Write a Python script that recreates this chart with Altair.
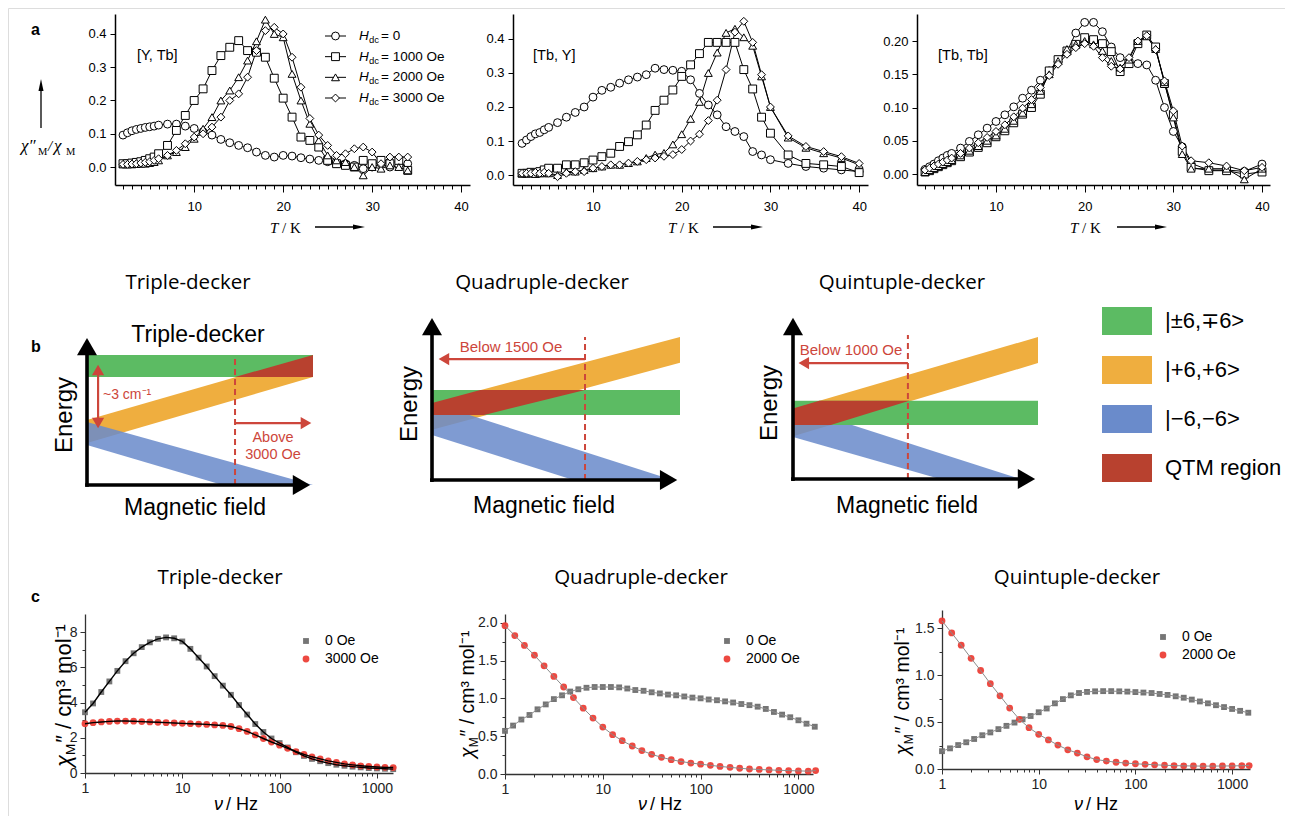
import altair as alt
import pandas as pd

W, H = 1277, 808
OFF = 8


def P(v):
    return v - OFF


SANS = "Liberation Sans"
SERIF = "Liberation Serif"
TFONT = "Open Sans"
ANN_RED = "#CD463B"

# ---------------- Row a : chi''/chi vs T ----------------
SERIES_A = ["0", "1000", "2000", "3000"]
SHAPES_A = ["circle", "square", "triangle-up", "diamond"]

T_A1 = [2, 2.5, 3, 3.5, 4, 4.5, 5, 5.5, 6, 7, 8, 9, 10, 11, 12, 13, 14, 15, 16, 17, 18,
        19, 20, 21, 22, 23, 24, 25, 26, 27, 28, 29, 30, 31, 32, 33, 34]
A1_H0 = [0.096, 0.103, 0.109, 0.113, 0.116, 0.119, 0.121, 0.123, 0.126, 0.129, 0.129, 0.123,
         0.116, 0.106, 0.096, 0.083, 0.073, 0.065, 0.058, 0.045, 0.035, 0.030, 0.035, 0.033,
         0.028, 0.024, 0.020, 0.016, 0.012, 0.010, 0.005, -0.005, 0.000, 0.010, 0.000, 0.005, 0.010]
A1_H1000 = [0.010, 0.010, 0.012, 0.014, 0.016, 0.020, 0.025, 0.030, 0.040, 0.065, 0.110, 0.155,
            0.200, 0.235, 0.290, 0.335, 0.360, 0.380, 0.350, 0.345, 0.330, 0.267, 0.207, 0.150,
            0.090, 0.080, 0.060, 0.020, 0.010, 0.005, 0.000, 0.020, 0.010, 0.020, 0.010, 0.020, -0.010]
A1_H2000 = [0.008, 0.008, 0.008, 0.009, 0.010, 0.010, 0.012, 0.015, 0.020, 0.035, 0.045, 0.060,
            0.085, 0.115, 0.150, 0.200, 0.230, 0.270, 0.320, 0.378, 0.443, 0.400, 0.390, 0.280,
            0.200, 0.130, 0.080, 0.035, 0.020, 0.015, 0.000, -0.025, 0.000, -0.005, 0.005, 0.000, -0.010]
A1_H3000 = [0.008, 0.008, 0.009, 0.010, 0.012, 0.014, 0.016, 0.020, 0.025, 0.035, 0.050, 0.070,
            0.090, 0.100, 0.120, 0.150, 0.200, 0.220, 0.270, 0.350, 0.410, 0.420, 0.400, 0.330,
            0.240, 0.146, 0.096, 0.065, 0.035, 0.040, 0.055, 0.060, 0.045, 0.010, 0.030, 0.030, 0.030]

T_A2 = [2, 2.5, 3, 3.5, 4, 4.5, 5, 6, 7, 8, 9, 10, 11, 12, 13, 14, 15, 16, 17, 18, 19, 20,
        21, 22, 23, 24, 25, 26, 27, 28, 29, 30, 32, 34, 36, 38, 40]
A2_H0 = [0.093, 0.103, 0.113, 0.121, 0.125, 0.133, 0.140, 0.154, 0.170, 0.184, 0.200, 0.229,
         0.249, 0.258, 0.270, 0.280, 0.288, 0.295, 0.314, 0.310, 0.308, 0.305, 0.280, 0.240,
         0.206, 0.177, 0.142, 0.128, 0.113, 0.069, 0.059, 0.045, 0.034, 0.025, 0.020, 0.015, 0.010]
A2_H1000 = [0.005, 0.005, 0.008, 0.005, 0.010, 0.015, 0.020, 0.020, 0.030, 0.030, 0.036, 0.044,
            0.054, 0.064, 0.084, 0.098, 0.118, 0.147, 0.190, 0.220, 0.250, 0.290, 0.324, 0.357,
            0.390, 0.390, 0.390, 0.390, 0.310, 0.253, 0.170, 0.123, 0.059, 0.034, 0.030, 0.025, 0.007]
A2_H2000 = [0.005, 0.005, 0.005, 0.003, 0.005, 0.005, 0.005, 0.000, 0.010, 0.010, 0.015, 0.020,
            0.025, 0.030, 0.030, 0.035, 0.040, 0.050, 0.060, 0.065, 0.090, 0.120, 0.165, 0.215,
            0.300, 0.360, 0.418, 0.430, 0.405, 0.380, 0.290, 0.200, 0.110, 0.080, 0.064, 0.050, 0.030]
A2_H3000 = [0.005, 0.005, 0.005, 0.008, 0.005, 0.008, 0.005, -0.005, 0.005, 0.010, 0.010, 0.020,
            0.025, 0.030, 0.030, 0.035, 0.040, 0.045, 0.050, 0.055, 0.060, 0.075, 0.100, 0.120,
            0.160, 0.220, 0.310, 0.420, 0.452, 0.390, 0.295, 0.200, 0.115, 0.084, 0.069, 0.054, 0.034]

T_A3 = [2, 2.5, 3, 3.5, 4, 4.5, 5, 6, 7, 8, 9, 10, 11, 12, 13, 14, 15, 16, 17, 18, 19, 20,
        21, 22, 23, 24, 25, 26, 27, 28, 29, 30, 31, 32, 34, 36, 38, 40]
A3_H0 = [0.007, 0.011, 0.015, 0.020, 0.024, 0.028, 0.031, 0.039, 0.049, 0.059, 0.069, 0.079,
         0.089, 0.101, 0.114, 0.126, 0.141, 0.155, 0.169, 0.184, 0.212, 0.228, 0.228, 0.214,
         0.191, 0.175, 0.168, 0.166, 0.164, 0.141, 0.100, 0.064, 0.041, 0.016, 0.006, 0.006, 0.004, 0.015]
A3_H1000 = [0.003, 0.005, 0.008, 0.011, 0.014, 0.017, 0.020, 0.026, 0.033, 0.040, 0.047, 0.056,
            0.065, 0.077, 0.090, 0.100, 0.120, 0.155, 0.172, 0.185, 0.195, 0.205, 0.202, 0.196,
            0.184, 0.154, 0.166, 0.196, 0.209, 0.191, 0.136, 0.089, 0.034, 0.010, 0.005, 0.005, 0.000, 0.003]
A3_H2000 = [0.003, 0.006, 0.009, 0.012, 0.015, 0.018, 0.021, 0.028, 0.035, 0.042, 0.050, 0.058,
            0.068, 0.080, 0.092, 0.105, 0.125, 0.150, 0.170, 0.188, 0.195, 0.200, 0.195, 0.185,
            0.170, 0.160, 0.172, 0.200, 0.207, 0.188, 0.138, 0.085, 0.030, 0.008, 0.008, 0.008, -0.008, 0.008]
A3_H3000 = [0.006, 0.009, 0.012, 0.015, 0.018, 0.021, 0.024, 0.031, 0.039, 0.047, 0.055, 0.064,
            0.074, 0.086, 0.099, 0.112, 0.130, 0.148, 0.165, 0.180, 0.190, 0.196, 0.192, 0.175,
            0.162, 0.158, 0.175, 0.200, 0.208, 0.187, 0.140, 0.095, 0.042, 0.020, 0.017, 0.012, 0.005, 0.010]

LEGEND_A = ["= 0", "= 1000 Oe", "= 2000 Oe", "= 3000 Oe"]

# ---------------- Row b : schematic energy diagrams (field 0-10, energy 0-10) ----------------
B_LABELS = ["|\u00b16,\u22136>", "|+6,+6>", "|\u22126,\u22126>", "QTM region"]
B_COLORS = ["#5CBB63", "#EFAE3F", "#6A8BCB", "#B8412F"]

B1_GREEN = ([0, 10], [8.67, 8.67], [7.2, 7.2])
B1_ORANGE = ([0, 10], [4.33, 8.67], [2.8, 7.2])
B1_BLUE = ([0, 6, 10], [4.2, 1.68, 0.0], [2.67, 0.0, 0.0])
B1_RED = ([6.55, 10], [7.2, 8.67], [7.2, 7.2])

B2_GREEN = ([0, 10], [5.45, 5.45], [3.94, 3.94])
B2_ORANGE = ([0, 10], [4.67, 8.67], [3.05, 7.1])
B2_BLUE = ([0, 5.7, 9.7], [4.66, 1.92, 0.0], [2.73, 0.0, 0.0])
B2_RED = ([0, 1.95, 2.1, 6.17], [4.67, 5.45, 5.45, 5.45], [3.94, 3.94, 3.94, 5.45])

B3_GREEN = ([0, 10], [4.77, 4.77], [3.29, 3.29])
B3_ORANGE = ([0, 10], [4.3, 8.66], [2.6, 7.07])
B3_BLUE = ([0, 6, 9.27], [4.45, 1.57, 0.0], [2.56, 0.0, 0.0])
B3_RED = ([0, 1.07, 1.54, 4.75], [4.3, 4.77, 4.77, 4.77], [3.29, 3.29, 3.29, 4.77])

# ---------------- Row c : chi'' vs frequency ----------------
F12 = [1, 1.21, 1.47, 1.78, 2.15, 2.61, 3.16, 3.83, 4.64, 5.62, 6.81, 8.25, 10, 12.1, 14.7,
       17.8, 21.5, 26.1, 31.6, 38.3, 46.4, 56.2, 68.1, 82.5, 100, 121, 147, 178, 215, 261,
       316, 383, 464, 562, 681, 825, 1000, 1210, 1470]
F10 = [1, 1.26, 1.58, 2, 2.51, 3.16, 3.98, 5.01, 6.31, 7.94, 10, 12.6, 15.8, 20, 25.1, 31.6,
       39.8, 50.1, 63.1, 79.4, 100, 126, 158, 200, 251, 316, 398, 501, 631, 794, 1000, 1260, 1500]

C1_0 = [3.45, 3.95, 4.6, 5.2, 5.8, 6.35, 6.8, 7.15, 7.42, 7.62, 7.7, 7.65, 7.47, 7.05, 6.55,
        6.05, 5.5, 4.96, 4.44, 3.86, 3.32, 2.78, 2.33, 1.96, 1.7, 1.45, 1.18, 0.97, 0.8, 0.67,
        0.56, 0.47, 0.41, 0.36, 0.32, 0.28, 0.26, 0.24, 0.22]
C1_3000 = [2.8, 2.86, 2.9, 2.93, 2.95, 2.95, 2.94, 2.92, 2.9, 2.88, 2.86, 2.84, 2.82, 2.8, 2.78,
           2.76, 2.73, 2.7, 2.64, 2.52, 2.36, 2.16, 1.96, 1.76, 1.58, 1.4, 1.22, 1.06, 0.92,
           0.8, 0.69, 0.6, 0.52, 0.46, 0.41, 0.37, 0.34, 0.32, 0.31]
C2_0 = [0.57, 0.64, 0.72, 0.78, 0.855, 0.92, 0.99, 1.04, 1.09, 1.12, 1.14, 1.15, 1.15, 1.15,
        1.145, 1.13, 1.11, 1.1, 1.08, 1.065, 1.05, 1.04, 1.025, 1.01, 1.0, 0.985, 0.975, 0.96,
        0.945, 0.925, 0.91, 0.89, 0.86, 0.82, 0.785, 0.75, 0.71, 0.665, 0.625]
C2_2000 = [1.96, 1.83, 1.70, 1.57, 1.43, 1.29, 1.15, 1.01, 0.87, 0.74, 0.62, 0.52, 0.44, 0.37,
           0.31, 0.26, 0.22, 0.19, 0.165, 0.145, 0.13, 0.115, 0.1, 0.088, 0.076, 0.066, 0.06,
           0.054, 0.049, 0.045, 0.041, 0.038, 0.045]
C3_0 = [0.19, 0.22, 0.255, 0.285, 0.32, 0.36, 0.39, 0.425, 0.46, 0.495, 0.53, 0.565, 0.605,
        0.645, 0.7, 0.745, 0.785, 0.81, 0.822, 0.828, 0.83, 0.83, 0.828, 0.825, 0.82, 0.815,
        0.81, 0.8, 0.79, 0.775, 0.76, 0.74, 0.72, 0.7, 0.68, 0.66, 0.64, 0.62, 0.6]
C3_2000 = [1.58, 1.45, 1.32, 1.18, 1.05, 0.91, 0.78, 0.65, 0.53, 0.44, 0.37, 0.31, 0.255, 0.205,
           0.17, 0.13, 0.1, 0.085, 0.072, 0.063, 0.056, 0.05, 0.045, 0.04, 0.036, 0.034,
           0.032, 0.031, 0.031, 0.032, 0.033, 0.035, 0.037]

LOG_MINOR = [2, 3, 4, 5, 6, 7, 8, 9, 20, 30, 40, 50, 60, 70, 80, 90,
             200, 300, 400, 500, 600, 700, 800, 900]


# ---------------- helpers ----------------
def sc(dom, r0, r1, log=False):
    if log:
        return alt.Scale(type="log", domain=dom, range=[P(r0), P(r1)], nice=False)
    return alt.Scale(domain=dom, range=[P(r0), P(r1)], nice=False, zero=False)


def ax(orient, offset, values, fmt=None, labels=True, tick=6, domain=True, lsize=13,
       lpad=3, dw=1.5, color="black", lcolor="black"):
    kw = dict(orient=orient, offset=offset, values=values, labels=labels, tickSize=tick,
              domain=domain, grid=False, title=None, tickColor=color, domainColor=color,
              domainWidth=dw, tickWidth=1, labelFont=SANS, labelFontSize=lsize,
              labelColor=lcolor, labelPadding=lpad, labelFlush=False, labelOverlap=False)
    if fmt:
        kw["format"] = fmt
    return alt.Axis(**kw)


def axes_layer(sx, sy, x0, y0, xaxis, yaxis):
    df = pd.DataFrame({"x": [x0], "y": [y0]})
    return alt.Chart(df).mark_point(opacity=0).encode(
        x=alt.X("x:Q", scale=sx, axis=xaxis), y=alt.Y("y:Q", scale=sy, axis=yaxis))


def txt(items, size, font=SANS, color="black", style="normal", weight="normal",
        align="left", baseline="alphabetic", angle=None):
    df = pd.DataFrame({"t": [i[0] for i in items], "x": [P(i[1]) for i in items],
                       "y": [P(i[2]) for i in items]})
    mk = dict(fontSize=size, font=font, color=color, fontStyle=style, fontWeight=weight,
              align=align, baseline=baseline)
    if angle is not None:
        mk["angle"] = angle
    return alt.Chart(df).mark_text(**mk).encode(
        x=alt.X("x:Q", scale=None, axis=None), y=alt.Y("y:Q", scale=None, axis=None),
        text="t:N")


def prule(x1, y1, x2, y2, color="black", width=1.3):
    df = pd.DataFrame({"x": [P(x1)], "y": [P(y1)], "x2": [P(x2)], "y2": [P(y2)]})
    return alt.Chart(df).mark_rule(color=color, strokeWidth=width).encode(
        x=alt.X("x:Q", scale=None, axis=None), y=alt.Y("y:Q", scale=None, axis=None),
        x2="x2:Q", y2="y2:Q")


def phead(x, y, shape, size, color="black"):
    df = pd.DataFrame({"x": [P(x)], "y": [P(y)]})
    return alt.Chart(df).mark_point(shape=shape, size=size, filled=True, color=color,
                                    opacity=1, strokeWidth=0).encode(
        x=alt.X("x:Q", scale=None, axis=None), y=alt.Y("y:Q", scale=None, axis=None))


SLIM_R = "M1,0L-1,-0.42L-1,0.42Z"
SLIM_U = "M0,-1L-0.42,1L0.42,1Z"

layers = []


# ---------------- row a panels ----------------
def panel_a(T, vals, xdom, xr, ydom, yvals, yfmt, yax_x):
    sx = sc(xdom, *xr)
    sy = sc(ydom, 185, 14)
    rows = [dict(T=t, v=v, s=name) for name, vv in zip(SERIES_A, vals) for t, v in zip(T, vv)]
    df = pd.DataFrame(rows)
    X = alt.X("T:Q", scale=sx, axis=None)
    Y = alt.Y("v:Q", scale=sy, axis=None)
    out = [
        alt.Chart(df).mark_line(color="black", strokeWidth=1).encode(x=X, y=Y, detail="s:N"),
        alt.Chart(df).mark_point(filled=True, fill="white", stroke="black", strokeWidth=1,
                                 size=62, opacity=1).encode(
            x=X, y=Y,
            shape=alt.Shape("s:N", scale=alt.Scale(domain=SERIES_A, range=SHAPES_A), legend=None)),
    ]
    xoff = P(185) - H
    out.append(axes_layer(sx, sy, xdom[0], ydom[0],
                          ax("bottom", xoff, [10, 20, 30, 40], "d", tick=7, lpad=8),
                          ax("left", -P(yax_x), yvals, yfmt, tick=5, lpad=4)))
    out.append(axes_layer(sx, sy, xdom[0], ydom[0],
                          ax("bottom", xoff, list(range(2, 41)), labels=False, tick=4, domain=False),
                          None))
    return out


layers += panel_a(T_A1, [A1_H0, A1_H1000, A1_H2000, A1_H3000], [1.1, 41], (115, 470),
                  [-0.054, 0.46], [0, 0.1, 0.2, 0.3, 0.4], ".1f", 115)
layers += panel_a(T_A2, [A2_H0, A2_H1000, A2_H2000, A2_H3000], [0.98, 41], (513, 868),
                  [-0.0294, 0.4735], [0, 0.1, 0.2, 0.3, 0.4], ".1f", 513)
layers += panel_a(T_A3, [A3_H0, A3_H1000, A3_H2000, A3_H3000], [1.09, 40.9], (917, 1270),
                  [-0.0165, 0.2406], [0, 0.05, 0.1, 0.15, 0.2], ".2f", 917)

# legend of row a
leg_sy = sc([0, 3], 36, 98)
leg_df = pd.DataFrame({"row": [0, 1, 2, 3], "s": SERIES_A, "lab": LEGEND_A,
                       "h": ["H"] * 4, "dc": ["dc"] * 4})
Yl = alt.Y("row:Q", scale=leg_sy, axis=None)
layers += [
    alt.Chart(leg_df).mark_rule(color="black", strokeWidth=1).encode(
        x=alt.value(P(325)), x2=alt.value(P(346)), y=Yl),
    alt.Chart(leg_df).mark_point(filled=True, fill="white", stroke="black", strokeWidth=1,
                                 size=62, opacity=1).encode(
        x=alt.value(P(335.5)), y=Yl,
        shape=alt.Shape("s:N", scale=alt.Scale(domain=SERIES_A, range=SHAPES_A), legend=None)),
    alt.Chart(leg_df).mark_text(font=SANS, fontSize=13.5, fontStyle="italic", align="left",
                                baseline="middle").encode(x=alt.value(P(359)), y=Yl, text="h:N"),
    alt.Chart(leg_df).mark_text(font=SANS, fontSize=9.5, align="left", baseline="middle",
                                dy=4).encode(x=alt.value(P(369)), y=Yl, text="dc:N"),
    alt.Chart(leg_df).mark_text(font=SANS, fontSize=13.5, align="left",
                                baseline="middle").encode(x=alt.value(P(381)), y=Yl, text="lab:N"),
]

# row a texts
layers.append(txt([("[Y, Tb]", 137, 60), ("[Tb, Y]", 533, 60), ("[Tb, Tb]", 938, 60)], 14.5))
layers.append(txt([("T", 270, 233), ("T", 668, 233), ("T", 1070, 233)], 15, font=SERIF, style="italic"))
layers.append(txt([("/ K", 282, 233), ("/ K", 680, 233), ("/ K", 1082, 233)], 15, font=SERIF))
for x0 in (315, 713, 1117):
    layers.append(prule(x0, 227, x0 + 44, 227, width=1.3))
    layers.append(phead(x0 + 44, 227, SLIM_R, 144))
# y title of row a
layers.append(txt([("\u03c7\u2033", 21, 151), ("\u03c7", 54, 151)], 17, font=SERIF, style="italic"))
layers.append(txt([("M", 38, 155), ("M", 66, 155)], 10.5, font=SERIF))
layers.append(txt([("/", 48, 151)], 15, font=SERIF, style="italic"))
layers.append(prule(41, 128, 41, 86, width=1.3))
layers.append(phead(41, 85, SLIM_U, 144))

# panel letters
layers.append(txt([("a", 31, 35), ("b", 31, 352), ("c", 31, 602)], 16, weight="bold"))


# ---------------- row b panels ----------------
def panel_b(xr, yr, green, orange, blue, red, xa, ya, dash_x, dash_top, red_segs, red_heads,
            legend=False):
    sx = sc([0, 10], *xr)
    sy = sc([0, 10], *yr)
    X = alt.X("x:Q", scale=sx, axis=None)
    Y = alt.Y("y:Q", scale=sy, axis=None, stack=None)

    def area(d, col, op=1.0, leg=False):
        xs, top, bot = d
        df = pd.DataFrame({"x": xs, "y": top, "y2": bot})
        if leg:
            df["st"] = B_LABELS[0]
            return alt.Chart(df).mark_area(opacity=op).encode(
                x=X, y=Y, y2="y2:Q",
                color=alt.Color("st:N", scale=alt.Scale(domain=B_LABELS, range=B_COLORS),
                                legend=alt.Legend(orient="none", legendX=P(1102), legendY=P(296),
                                                  title=None, symbolType="M-1,-0.56H1V0.56H-1Z",
                                                  symbolSize=2500, symbolStrokeWidth=0,
                                                  symbolOpacity=1, labelFontSize=22,
                                                  labelFont=SANS, labelColor="black",
                                                  labelOffset=13, rowPadding=10, padding=0,
                                                  labelLimit=300)))
        return alt.Chart(df).mark_area(color=col, opacity=op).encode(x=X, y=Y, y2="y2:Q")

    out = [area(orange, B_COLORS[1]), area(blue, B_COLORS[2], 0.86),
           area(green, B_COLORS[0], leg=legend), area(red, B_COLORS[3])]
    # dashed marker
    ddf = pd.DataFrame({"x": [dash_x], "y": [0.0], "x2": [dash_x], "y2": [dash_top]})
    out.append(alt.Chart(ddf).mark_rule(color=ANN_RED, strokeWidth=2, strokeDash=[6, 4]).encode(
        x=X, y=Y, x2="x2:Q", y2="y2:Q"))
    # red annotation arrows
    sdf = pd.DataFrame(red_segs, columns=["x", "y", "x2", "y2"])
    out.append(alt.Chart(sdf).mark_rule(color=ANN_RED, strokeWidth=2.2).encode(
        x=X, y=Y, x2="x2:Q", y2="y2:Q"))
    hdf = pd.DataFrame(red_heads, columns=["x", "y", "shape"])
    out.append(alt.Chart(hdf).mark_point(filled=True, color=ANN_RED, opacity=1, size=150,
                                         strokeWidth=0).encode(
        x=X, y=Y, shape=alt.Shape("shape:N", scale=None)))
    # black axes arrows
    adf = pd.DataFrame({"x": [-0.08, 0.0], "y": [0.0, -0.12], "x2": [xa, 0.0], "y2": [0.0, ya]})
    out.append(alt.Chart(adf).mark_rule(color="black", strokeWidth=3.6).encode(
        x=X, y=Y, x2="x2:Q", y2="y2:Q"))
    ahdf = pd.DataFrame({"x": [xa, 0.0], "y": [0.0, ya], "shape": ["triangle-right", "triangle-up"]})
    out.append(alt.Chart(ahdf).mark_point(filled=True, color="black", opacity=1, size=400,
                                          strokeWidth=0).encode(
        x=X, y=Y, shape=alt.Shape("shape:N", scale=None)))
    return out


layers += panel_b((87, 313), (485, 335), B1_GREEN, B1_ORANGE, B1_BLUE, B1_RED, 9.49, 9.23,
                  6.55, 8.67,
                  [[0.49, 4.13, 0.49, 7.67], [6.55, 4.13, 9.69, 4.13]],
                  [[0.49, 7.67, "triangle-up"], [0.49, 4.13, "triangle-down"],
                   [9.69, 4.13, "triangle-right"]])
layers += panel_b((432, 680), (480, 315), B2_GREEN, B2_ORANGE, B2_BLUE, B2_RED, 9.54, 9.30,
                  6.17, 8.67,
                  [[6.17, 7.33, 0.48, 7.33]],
                  [[0.48, 7.33, "triangle-left"]])
layers += panel_b((793, 1038), (479, 315), B3_GREEN, B3_ORANGE, B3_BLUE, B3_RED, 9.53, 9.30,
                  4.69, 8.78,
                  [[4.69, 7.07, 0.44, 7.07]],
                  [[0.44, 7.07, "triangle-left"]], legend=True)

layers.append(txt([("~3 cm\u207b\u00b9", 103, 399)], 14, color=ANN_RED))
layers.append(txt([("Above", 273, 442), ("3000 Oe", 273, 459)], 14.5, color=ANN_RED, align="center"))
layers.append(txt([("Below 1500 Oe", 511, 352), ("Below 1000 Oe", 851, 355)], 15,
                  color=ANN_RED, align="center"))
layers.append(txt([("Triple-decker", 198, 342)], 23, align="center"))
layers.append(txt([("Energy", 72, 415), ("Energy", 417, 404), ("Energy", 777, 403)], 24,
                  align="center", angle=270))
layers.append(txt([("Magnetic field", 195, 515), ("Magnetic field", 544, 513),
                   ("Magnetic field", 907, 513)], 23, align="center"))
layers.append(txt([("Triple-decker", 188, 289), ("Quadruple-decker", 542, 289),
                   ("Quintuple-decker", 902, 289),
                   ("Triple-decker", 220, 584), ("Quadruple-decker", 641, 584),
                   ("Quintuple-decker", 1077, 584)], 20.5, font=TFONT, align="center"))


# ---------------- row c panels ----------------
def panel_c(f0, v0, f1, v1, labels, xdom, xr, ydom, yr, ymaj, ymin, yfmt, yax_x, xax_y,
            line_col, line_w, leg_x, leg_y):
    sx = sc(xdom, *xr, log=True)
    sy = sc(ydom, *yr)
    df = pd.DataFrame({"f": f0 + f1, "v": v0 + v1,
                       "s": [labels[0]] * len(f0) + [labels[1]] * len(f1)})
    X = alt.X("f:Q", scale=sx, axis=None)
    Y = alt.Y("v:Q", scale=sy, axis=None)
    leg = alt.Legend(orient="none", legendX=P(leg_x), legendY=P(leg_y), title=None,
                     labelFont=SANS, labelFontSize=14, labelColor="black", symbolSize=40,
                     labelOffset=12, rowPadding=4, padding=0, symbolStrokeWidth=0)
    pts = alt.Chart(df).mark_point(filled=True, opacity=0.95, strokeWidth=0).encode(
        x=X, y=Y,
        color=alt.Color("s:N", scale=alt.Scale(domain=labels, range=["#6E6E6E", "#EC3F37"]),
                        legend=leg),
        shape=alt.Shape("s:N", scale=alt.Scale(domain=labels, range=["square", "circle"]),
                        legend=leg),
        size=alt.Size("s:N", scale=alt.Scale(domain=labels, range=[34, 46]), legend=None))
    line = alt.Chart(df).mark_line(color=line_col, strokeWidth=line_w).encode(
        x=X, y=Y, detail="s:N")
    xoff = P(xax_y) - H
    out = [pts, line,
           axes_layer(sx, sy, xdom[0], ydom[0],
                      ax("bottom", xoff, [1, 10, 100, 1000], "d", tick=5, lpad=3, lsize=14,
                         dw=1.3, color="#333333", lcolor="#222222"),
                      ax("left", -P(yax_x), ymaj, yfmt, tick=5, lpad=3, lsize=14, dw=1.3,
                         color="#333333", lcolor="#222222")),
           axes_layer(sx, sy, xdom[0], ydom[0],
                      ax("bottom", xoff, LOG_MINOR, labels=False, tick=3, domain=False,
                         color="#333333"),
                      ax("left", -P(yax_x), ymin, labels=False, tick=3, domain=False,
                         color="#333333"))]
    return out


layers += panel_c(F12, C1_0, F12, C1_3000, ["0 Oe", "3000 Oe"], [1, 1463], (85, 393),
                  [0, 9.03], (773, 614), [0, 2, 4, 6, 8], [1, 3, 5, 7], "d", 85, 773,
                  "black", 1.4, 299, 634)
layers += panel_c(F12, C2_0, F10, C2_2000, ["0 Oe", "2000 Oe"], [1, 1410], (505, 813),
                  [0, 2.115], (774, 614), [0, 0.5, 1.0, 1.5, 2.0], [0.25, 0.75, 1.25, 1.75],
                  ".1f", 505, 774, "#8C8C8C", 1, 720, 634)
layers += panel_c(F12, C3_0, F10, C3_2000, ["0 Oe", "2000 Oe"], [1, 1531], (942, 1250),
                  [0, 1.695], (769, 610), [0, 0.5, 1.0, 1.5], [0.25, 0.75, 1.25],
                  ".1f", 942, 769, "#8C8C8C", 1, 1156, 630)

# row c axis titles
layers.append(txt([("\u03bd", 214, 810), ("\u03bd", 638, 810), ("\u03bd", 1074, 810)], 18,
                  style="italic"))
layers.append(txt([("/ Hz", 226, 810), ("/ Hz", 650, 810), ("/ Hz", 1086, 810)], 18))
for (bx, by, fs) in ((71, 767, 22), (474, 758, 19.5), (909, 755, 19.5)):
    layers.append(txt([("\u03c7", bx, by)], fs, style="italic", angle=270))
    layers.append(txt([("M", bx + 4, by - 0.55 * fs)], fs * 0.62, angle=270))
    layers.append(txt([("\u2033 / cm\u00b3 mol\u207b\u00b9", bx, by - 1.1 * fs)], fs, angle=270))

chart = alt.layer(*layers).resolve_scale(
    x="independent", y="independent", color="independent", shape="independent",
    size="independent"
).properties(
    width=W, height=H, padding=0, autosize=alt.AutoSizeParams(type="none")
).configure_view(stroke=None).configure(background="white")

chart.save("out.html", embed_options={"renderer": "svg", "actions": False})
